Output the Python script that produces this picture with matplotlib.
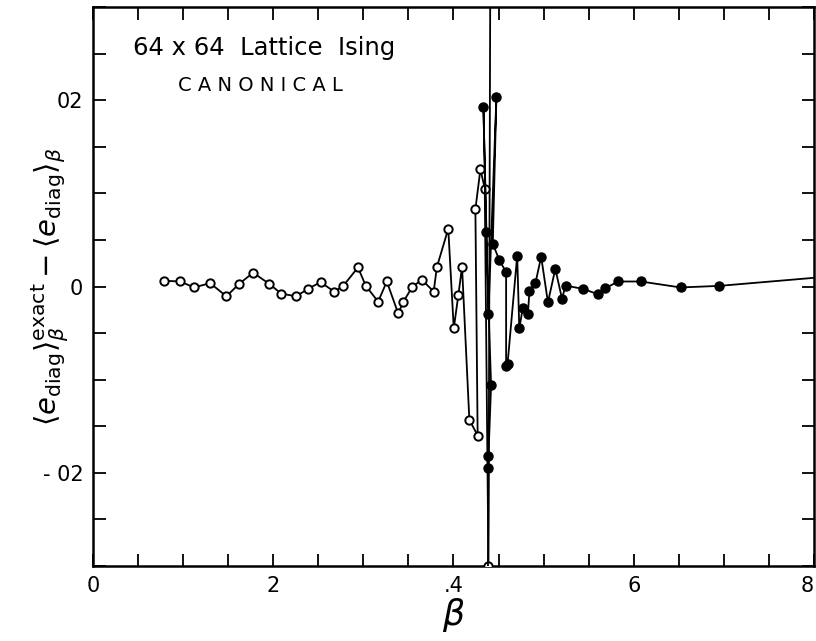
import numpy as np
import matplotlib
matplotlib.use("Agg")
import matplotlib.pyplot as plt
from matplotlib.ticker import FixedLocator, MultipleLocator

# open circles: first set of runs (beta, deviation)
beta_open = [0.079, 0.097, 0.112, 0.130, 0.148, 0.1625, 0.1777, 0.1955, 0.2088,
             0.2255, 0.2385, 0.2526, 0.2674, 0.2774, 0.294, 0.3027, 0.3164, 0.326,
             0.3386, 0.3445, 0.3545, 0.365, 0.378, 0.3816, 0.3942, 0.4003, 0.4054,
             0.4095, 0.4176, 0.4268, 0.4243, 0.4299, 0.4347, 0.4388, 0.4412]
dev_open = [0.00062, 0.00054, -0.0001, 0.00036, -0.00105, 0.00032, 0.00148, 0.00029,
            -0.00076, -0.00105, -0.00025, 0.00047, -0.00054, 0.00004, 0.00205, 0.00007,
            -0.00162, 0.00054, -0.00288, -0.00162, 0.0, 0.00072, -0.00054, 0.0021,
            0.0062, -0.0045, -0.0009, 0.0021, -0.0143, -0.0160, 0.0083, 0.0126,
            0.0105, -0.0300, 0.045]

# filled circles: second set of runs
beta_fill = [0.4375, 0.4388, 0.4388, 0.4417, 0.4362, 0.4332, 0.4388, 0.4476, 0.4436,
             0.4510, 0.4584, 0.4584, 0.4600, 0.4707, 0.4730, 0.4769, 0.4825, 0.4843,
             0.4910, 0.4973, 0.5048, 0.5130, 0.5204, 0.5244, 0.5437, 0.5604, 0.5686,
             0.5827, 0.6079, 0.6520, 0.6950, 0.8200]
dev_fill = [-0.045, -0.0195, -0.0182, -0.0106, 0.0058, 0.0193, -0.0029, 0.0203, 0.0046,
            0.0028, 0.00155, -0.0085, -0.0083, 0.0033, -0.0045, -0.0023, -0.0030, -0.0005,
            0.0004, 0.0032, -0.0017, 0.0019, -0.0013, 0.0001, -0.00025, -0.00083, -0.00018,
            0.00054, 0.00054, -0.0001, 0.00007, 0.0011]

xtick_vals = [0, 0.2, 0.4, 0.6, 0.8]
xtick_text = ["0", "2", ".4", "6", "8"]
ytick_vals = [-0.02, 0, 0.02]
ytick_text = ["- 02", "0", "02"]

plt.rcParams['font.family'] = ['DejaVu Sans']
plt.rcParams['mathtext.fontset'] = 'dejavusans'

fig = plt.figure(figsize=(8.16, 6.41), dpi=100)
ax = fig.add_axes([0.114, 0.117, 0.8835, 0.872])

ax.plot(beta_open, dev_open, '-', color='black', lw=1.3, marker='o', ms=6,
        mfc='white', mec='black', mew=1.4, zorder=3)
ax.plot(beta_fill, dev_fill, '-', color='black', lw=1.3, marker='o', ms=6.5,
        mfc='black', mec='black', zorder=4)

ax.set_xlim(0, 0.8)
ax.set_ylim(-0.03, 0.03)

ax.xaxis.set_major_locator(FixedLocator(xtick_vals))
ax.set_xticklabels(xtick_text)
ax.xaxis.set_minor_locator(MultipleLocator(0.05))
ax.yaxis.set_major_locator(FixedLocator(ytick_vals))
ax.set_yticklabels(ytick_text)
ax.yaxis.set_minor_locator(MultipleLocator(0.005))

ax.tick_params(which='both', direction='in', top=True, right=True, width=1.3,
               labelsize=15)
ax.tick_params(which='major', length=9, pad=7)
ax.tick_params(which='minor', length=9)
ax.get_xticklabels()[-1].set_horizontalalignment('right')
for s in ax.spines.values():
    s.set_linewidth(1.8)

ax.set_xlabel(r'$\beta$', fontsize=25, va='center')
ax.xaxis.set_label_coords(0.5, -0.088)
ax.set_ylabel(r'$\left\langle e_{\rm diag}\right\rangle_{\beta}^{\rm exact}'
              r' - \left\langle e_{\rm diag}\right\rangle_{\beta}$',
              fontsize=21)
ax.yaxis.set_label_coords(-0.032, 0.5)

ax.text(0.237, 0.927, "64 x 64  Lattice  Ising", transform=ax.transAxes,
        fontsize=17.5, ha='center', va='center')
ax.text(0.232, 0.859, "C A N O N I C A L", transform=ax.transAxes,
        fontsize=14, ha='center', va='center')

fig.savefig("out.png", dpi=100)
